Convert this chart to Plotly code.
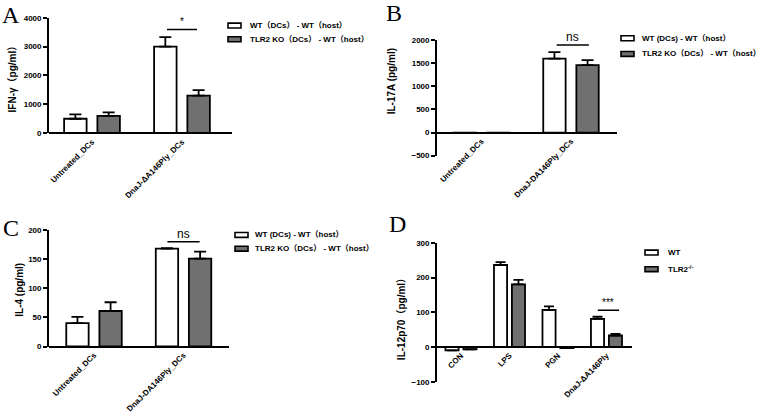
import plotly.graph_objects as go

# ---------------- data ----------------
cats_abc_A = ["Untreated_DCs", "DnaJ-ΔA146Ply_DCs"]
cats_abc_BC = ["Untreated_DCs", "DnaJ-DA146Ply_DCs"]
cats_d = ["CON", "LPS", "PGN", "DnaJ-ΔA146Ply"]

ifn_wt = [500, 3000]
ifn_wt_err = [150, 330]
ifn_ko = [600, 1300]
ifn_ko_err = [120, 190]

il17_wt = [-10, 1600]
il17_wt_err = [None, 140]
il17_ko = [-10, 1460]
il17_ko_err = [None, 110]

il4_wt = [40, 168]
il4_wt_err = [11, 1]
il4_ko = [61, 151]
il4_ko_err = [15, 12]

il12_wt = [-10, 236, 107, 81]
il12_wt_err = [None, 8, 10, 6]
il12_ko = [-7, 180, -3, 33]
il12_ko_err = [None, 13, None, 5]

legend_abc_A = ["WT（DCs） - WT（host）", "TLR2 KO（DCs） - WT（host）"]
legend_abc_BC = ["WT (DCs) - WT（host）", "TLR2 KO（DCs） - WT（host）"]
legend_d = ["WT", "TLR2<sup>-/-</sup>"]

W, H = 760, 420
FONT = "Liberation Sans, Arial, Noto Sans CJK SC, sans-serif"
GRAY = "#707070"
BOLD = dict(family=FONT, color="black", weight="bold")


def px(x):
    return x / W


def py(y):
    return 1 - y / H


fig = go.Figure()

panels = [
    dict(s="", cats=cats_abc_A, wt=ifn_wt, we=ifn_wt_err, ko=ifn_ko, ke=ifn_ko_err,
         names=legend_abc_A, xd=(49, 232), yd=(132, 14), yr=[0, 4000], dt=1000,
         yt="IFN-γ（pg/ml）", xr=[-0.478, 1.556], off=(-0.31, 0.06, 0.25), cap=6,
         tpos=(12, 74), leg=(228, 248, 22, 36)),
    dict(s="2", cats=cats_abc_BC, wt=il17_wt, we=il17_wt_err, ko=il17_ko, ke=il17_ko_err,
         names=legend_abc_BC, xd=(437, 617), yd=(155, 37), yr=[-500, 2000], dt=500,
         yt="IL-17A (pg/ml)", xr=[-0.497, 1.514], off=(-0.31, 0.06, 0.25), cap=6,
         tpos=(391, 79), leg=(621, 640, 35, 51)),
    dict(s="3", cats=cats_abc_BC, wt=il4_wt, we=il4_wt_err, ko=il4_ko, ke=il4_ko_err,
         names=legend_abc_BC, xd=(49, 229), yd=(350, 231), yr=[0, 200], dt=50,
         yt="IL-4 (pg/ml)", xr=[-0.503, 1.508], off=(-0.31, 0.06, 0.25), cap=6,
         tpos=(20, 292), leg=(235, 253, 236, 250)),
    dict(s="4", cats=cats_d, wt=il12_wt, we=il12_wt_err, ko=il12_ko, ke=il12_ko_err,
         names=legend_d, xd=(437, 632), yd=(386, 244), yr=[-100, 300], dt=100,
         yt="IL-12p70（pg/ml）", xr=[-0.495, 3.526], off=(-0.32, 0.05, 0.27), cap=5,
         tpos=(401, 320), leg=(645, 666, 254, 271)),
]


def val_to_px(p, v):
    bot, top = p["yd"]
    y0, y1 = p["yr"]
    return bot - (v - y0) / (y1 - y0) * (bot - top)


for p in panels:
    xa = "x" + p["s"]
    ya = "y" + p["s"]
    for vals, errs, color, name, off in [
        (p["wt"], p["we"], "white", p["names"][0], p["off"][0]),
        (p["ko"], p["ke"], GRAY, p["names"][1], p["off"][1]),
    ]:
        fig.add_trace(go.Bar(
            x=p["cats"], y=vals, name=name, xaxis=xa, yaxis=ya, showlegend=False,
            width=p["off"][2], offset=off,
            marker=dict(color=color, line=dict(color="black", width=1.8)),
            error_y=dict(type="data", array=errs, symmetric=False,
                         arrayminus=[0] * len(vals), color="black",
                         thickness=1.8, width=p["cap"]),
        ))
    bot, top = p["yd"]
    zero_px = val_to_px(p, 0)
    fig.update_layout(**{
        "xaxis" + p["s"]: dict(
            domain=[px(p["xd"][0]), px(p["xd"][1])], range=p["xr"], type="category",
            anchor="free", position=py(zero_px), showline=True, linecolor="black",
            linewidth=1.8, ticks="", tickangle=-45, showgrid=False, zeroline=False,
            tickfont=dict(size=8, **BOLD), fixedrange=True),
        "yaxis" + p["s"]: dict(
            domain=[py(bot), py(top)], range=p["yr"], dtick=p["dt"], anchor=xa,
            showline=True, linecolor="black", linewidth=1.8, ticks="outside",
            ticklen=4, tickwidth=1.8, tickcolor="black", showgrid=False, zeroline=False,
            tickfont=dict(size=8, **BOLD), fixedrange=True),
    })
    # y-axis title
    fig.add_annotation(x=px(p["tpos"][0]), y=py(p["tpos"][1]), xref="paper", yref="paper",
                       text=p["yt"], textangle=-90, showarrow=False,
                       xanchor="center", yanchor="middle", font=dict(size=10, **BOLD))

    # legend (drawn manually: small outlined rectangles + labels)
    ix, tx, r1, r2 = p["leg"]
    for row, color, name in [(r1, "white", p["names"][0]), (r2, GRAY, p["names"][1])]:
        fig.add_shape(type="rect", xref="paper", yref="paper",
                      x0=px(ix), x1=px(ix + 13), y0=py(row - 2.5), y1=py(row + 2.5),
                      fillcolor=color, line=dict(color="black", width=1.6))
        fig.add_annotation(x=px(tx), y=py(row), xref="paper", yref="paper", text=name,
                           showarrow=False, xanchor="left", yanchor="middle",
                           font=dict(size=8, **BOLD))

# significance markers: (panel index, category index, left, right, line value, text, text px above line)
sig = [
    (0, 1, -0.167, 0.167, 3593, "*", 8),
    (1, 1, -0.16, 0.2, 1894, "ns", 8),
    (2, 1, -0.18, 0.18, 180, "ns", 8),
    (3, 3, -0.18, 0.26, 106, "***", 8),
]
for pi, cx, a, b, yl, txt, dy in sig:
    p = panels[pi]
    s = p["s"]
    fig.add_shape(type="line", xref="x" + s, yref="y" + s,
                  x0=cx + a, x1=cx + b, y0=yl, y1=yl,
                  line=dict(color="black", width=1.5))
    fig.add_annotation(x=cx + (a + b) / 2, y=py(val_to_px(p, yl) - dy), xref="x" + s,
                       yref="paper", text=txt, showarrow=False, yanchor="middle",
                       font=dict(size=12 if txt == "ns" else 10, family=FONT, color="black"))

# panel letters
for letter, x, y in [("A", 0, -4), ("B", 384, -6), ("C", 1, 214), ("D", 387, 209)]:
    fig.add_annotation(x=px(x), y=py(y), xref="paper", yref="paper", text=letter,
                       showarrow=False, xanchor="left", yanchor="top",
                       font=dict(size=24, family="Liberation Serif, Times New Roman, serif",
                                 color="black"))

fig.update_layout(
    width=W, height=H, margin=dict(l=0, r=0, t=0, b=0),
    paper_bgcolor="white", plot_bgcolor="rgba(0,0,0,0)",
    barmode="overlay", showlegend=False, hovermode=False,
    font=dict(family=FONT, color="black"),
)

fig.write_html("out.html", config={"displayModeBar": False},
               post_script="document.body.style.margin='0';")
